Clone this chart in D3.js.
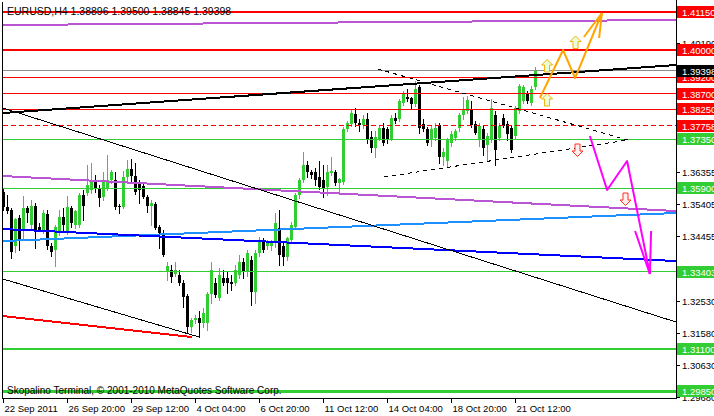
<!DOCTYPE html>
<html><head><meta charset="utf-8">
<script src="https://cdn.jsdelivr.net/npm/d3@7"></script>
<style>
html,body{margin:0;padding:0;background:#fff;overflow:hidden}
svg{display:block}
text{font-family:"Liberation Sans",Arial,sans-serif;font-size:9.5px}
</style>
</head><body>
<svg id="c" width="714" height="416"></svg>
<script>
// ---------- DATA ----------
const symbolTitle = "EURUSD,H4  1.38896 1.39500 1.38845 1.39398";
const copyright = "Skopalino Terminal, \u00A9 2001-2010 MetaQuotes Software Corp.";

const openP = [1.3577,1.3535,1.3524,1.3419,1.3500,1.3464,1.3530,1.3479,1.3538,1.3473,
1.3464,1.3512,1.3419,1.3405,1.3458,1.3503,1.3458,1.3530,1.3479,1.3479,
1.3568,1.3574,1.3583,1.3607,1.3589,1.3562,1.3589,1.3613,1.3613,1.3538,
1.3535,1.3622,1.3646,1.3625,1.3607,1.3595,1.3562,1.3538,1.3544,1.3473,
1.3455,1.3339,1.3345,1.3333,1.3330,1.3307,1.3268,1.3176,1.3197,1.3203,
1.3188,1.3188,1.3274,1.3307,1.3262,1.3322,1.3322,1.3310,1.3307,1.3330,
1.3369,1.3339,1.3375,1.3280,1.3396,1.3434,1.3419,1.3419,1.3425,1.3470,
1.3419,1.3384,1.3434,1.3473,1.3568,1.3613,1.3658,1.3637,1.3637,1.3622,
1.3613,1.3592,1.3634,1.3637,1.3604,1.3607,1.3767,1.3782,1.3811,1.3785,
1.3779,1.3797,1.3743,1.3708,1.3737,1.3770,1.3767,1.3737,1.3800,1.3797,
1.3844,1.3862,1.3859,1.3841,1.3892,1.3782,1.3767,1.3732,1.3740,1.3779,
1.3681,1.3672,1.3723,1.3740,1.3770,1.3806,1.3820,1.3826,1.3782,1.3732,
1.3767,1.3717,1.3732,1.3806,1.3740,1.3800,1.3782,1.3770,1.3746,1.3820,
1.3850,1.3871,1.3844,1.38896];
const highP = [1.3589,1.3568,1.3530,1.3500,1.3509,1.3565,1.3538,1.3553,1.3547,1.3485,
1.3524,1.3524,1.3425,1.3479,1.3524,1.3530,1.3565,1.3538,1.3524,1.3574,
1.3583,1.3658,1.3666,1.3628,1.3598,1.3637,1.3687,1.3643,1.3637,1.3544,
1.3640,1.3675,1.3678,1.3664,1.3613,1.3604,1.3568,1.3553,1.3550,1.3479,
1.3464,1.3369,1.3360,1.3369,1.3345,1.3316,1.3274,1.3203,1.3212,1.3223,
1.3232,1.3280,1.3369,1.3322,1.3351,1.3345,1.3339,1.3330,1.3360,1.3390,
1.3381,1.3405,1.3387,1.3405,1.3443,1.3440,1.3434,1.3434,1.3515,1.3524,
1.3425,1.3443,1.3488,1.3574,1.3619,1.3696,1.3672,1.3643,1.3649,1.3672,
1.3658,1.3658,1.3681,1.3643,1.3619,1.3773,1.3791,1.3826,1.3829,1.3797,
1.3806,1.3814,1.3761,1.3761,1.3776,1.3785,1.3773,1.3806,1.3814,1.3856,
1.3880,1.3886,1.3862,1.3909,1.3898,1.3797,1.3773,1.3776,1.3785,1.3785,
1.3708,1.3740,1.3761,1.3767,1.3814,1.3862,1.3865,1.3850,1.3791,1.3785,
1.3776,1.3755,1.3856,1.3820,1.3785,1.3809,1.3791,1.3779,1.3835,1.3900,
1.3898,1.3880,1.3895,1.39500];
const lowP = [1.3524,1.3515,1.3381,1.3399,1.3405,1.3434,1.3488,1.3470,1.3413,1.3461,
1.3455,1.3410,1.3387,1.3357,1.3449,1.3464,1.3452,1.3473,1.3470,1.3473,
1.3494,1.3568,1.3574,1.3577,1.3538,1.3553,1.3583,1.3604,1.3527,1.3515,
1.3530,1.3604,1.3604,1.3571,1.3547,1.3559,1.3518,1.3479,1.3467,1.3413,
1.3387,1.3316,1.3310,1.3327,1.3301,1.3235,1.3161,1.3161,1.3188,1.3146,
1.3176,1.3167,1.3247,1.3265,1.3256,1.3301,1.3277,1.3286,1.3301,1.3322,
1.3322,1.3327,1.3241,1.3247,1.3387,1.3399,1.3410,1.3407,1.3416,1.3360,
1.3360,1.3375,1.3428,1.3470,1.3559,1.3607,1.3622,1.3619,1.3598,1.3586,
1.3562,1.3568,1.3628,1.3598,1.3577,1.3601,1.3761,1.3776,1.3776,1.3761,
1.3770,1.3723,1.3696,1.3681,1.3732,1.3717,1.3723,1.3732,1.3785,1.3791,
1.3838,1.3850,1.3826,1.3835,1.3755,1.3761,1.3717,1.3714,1.3732,1.3664,
1.3658,1.3652,1.3714,1.3734,1.3761,1.3797,1.3814,1.3773,1.3752,1.3714,
1.3687,1.3672,1.3726,1.3658,1.3732,1.3773,1.3732,1.3696,1.3737,1.3814,
1.3844,1.3844,1.3838,1.38845];
const closeP = [1.3535,1.3521,1.3399,1.3497,1.3434,1.3530,1.3515,1.3538,1.3464,1.3464,
1.3515,1.3419,1.3399,1.3473,1.3503,1.3479,1.3533,1.3485,1.3521,1.3568,
1.3538,1.3598,1.3607,1.3589,1.3559,1.3607,1.3613,1.3637,1.3535,1.3533,
1.3622,1.3646,1.3625,1.3577,1.3583,1.3562,1.3538,1.3547,1.3470,1.3455,
1.3390,1.3357,1.3325,1.3345,1.3307,1.3265,1.3176,1.3197,1.3203,1.3188,
1.3217,1.3274,1.3345,1.3271,1.3330,1.3307,1.3307,1.3304,1.3345,1.3369,
1.3339,1.3396,1.3280,1.3396,1.3434,1.3405,1.3425,1.3425,1.3485,1.3390,
1.3384,1.3440,1.3479,1.3568,1.3613,1.3658,1.3637,1.3628,1.3613,1.3592,
1.3589,1.3637,1.3640,1.3604,1.3616,1.3767,1.3785,1.3814,1.3785,1.3779,
1.3797,1.3732,1.3708,1.3743,1.3770,1.3723,1.3732,1.3800,1.3791,1.3850,
1.3871,1.3856,1.3841,1.3886,1.3770,1.3767,1.3723,1.3767,1.3770,1.3681,
1.3696,1.3737,1.3752,1.3761,1.3806,1.3826,1.3853,1.3779,1.3755,1.3776,
1.3708,1.3746,1.3829,1.3702,1.3776,1.3776,1.3752,1.3702,1.3829,1.3895,
1.3892,1.3850,1.3886,1.39398];

// time axis labels and the bar index they sit on
const timeLabels = ["22 Sep 2011","26 Sep 20:00","29 Sep 12:00","4 Oct 04:00","6 Oct 20:00",
                    "11 Oct 12:00","14 Oct 04:00","18 Oct 20:00","21 Oct 12:00"];
const timeLabelBars = [0,16,32,48,64,80,96,112,128];

// price axis tick labels
const priceTicks = [1.40190,1.36355,1.35405,1.34455,1.32530,1.31580,1.30630,1.29680];

// horizontal support/resistance levels
const levels = [1.41150,1.40000,1.39200,1.38700,1.38250,1.37758,1.37350,1.35900,1.33403,1.31100,1.29850];
const currentPrice = 1.39398;

// trend lines: [barIndex, price] pairs
const lineBlackThick = [[-0.125,1.38134],[168.125,1.39563]];
const lineBlackLong  = [[-0.125,1.38283],[168.125,1.31912]];
const lineBlackLow   = [[-0.125,1.33192],[48.9,1.31466]];
const lineRedLow     = [[-0.125,1.32091],[47.1,1.31466]];
const linePurpleTop  = [[-0.125,1.40754],[168.125,1.40903]];
const linePurpleMid  = [[-0.125,1.36258],[168.125,1.35217]];
const lineBlue       = [[-0.125,1.34681],[168.125,1.33728]];
const lineDodger     = [[-0.125,1.34323],[168.125,1.35157]];
const triUpper       = [[93.6,1.39444],[156.1,1.37330]];
const triLower       = [[95.1,1.36229],[156.1,1.37330]];
const orangePath     = [[134.1,1.38581],[139.9,1.40009],[142.9,1.39176],[149.6,1.41111]];
const orangeHeadL    = [[145.1,1.40397],[149.6,1.41111]];
const orangeHeadR    = [[148.9,1.40367],[149.6,1.41111]];
const magentaPath    = [[146.6,1.37449],[150.9,1.35842],[155.9,1.36705],[161.6,1.33341]];
const magentaHeadL   = [[157.9,1.34621],[161.6,1.33341]];
const magentaHeadR   = [[161.9,1.34621],[161.6,1.33341]];
const upArrows       = [[135.9,1.38521],[135.9,1.39533],[143.0,1.40233]];
const downArrows     = [[143.5,1.37033],[155.5,1.35574]];

// ---------- CHART ----------
const svg = d3.select("#c");
const PL = 3, PR = 676, PT = 2, PB = 398;
const x = d3.scaleLinear().domain([0,168]).range([3.5,675.5]);
const y = d3.scaleLinear().domain([1.29651,1.41498]).range([398,0]);
const crisp = (v,w) => (w % 2 ? Math.round(v - 0.5) + 0.5 : Math.round(v));

svg.append("rect").attr("width",714).attr("height",416).attr("fill","#fff");
svg.append("defs").append("clipPath").attr("id","plot")
  .append("rect").attr("x",PL).attr("y",PT).attr("width",PR-PL).attr("height",PB-PT);

const plot = svg.append("g").attr("clip-path","url(#plot)");

// candles
const bars = d3.range(openP.length).map(i => ({i,o:openP[i],h:highP[i],l:lowP[i],c:closeP[i]}));
const cg = plot.append("g").attr("shape-rendering","crispEdges");
cg.selectAll("line.w").data(bars).join("line")
  .attr("x1",d=>x(d.i)).attr("x2",d=>x(d.i))
  .attr("y1",d=>Math.round(y(d.h))).attr("y2",d=>Math.round(y(d.l))+1)
  .attr("stroke",d=>d.c>=d.o?"#32cd32":"#000").attr("stroke-width",1);
cg.selectAll("rect.b").data(bars).join("rect")
  .attr("x",d=>x(d.i)-1.5).attr("width",3)
  .attr("y",d=>Math.round(y(Math.max(d.o,d.c))))
  .attr("height",d=>Math.max(1,Math.round(y(Math.min(d.o,d.c)))-Math.round(y(Math.max(d.o,d.c)))))
  .attr("fill",d=>d.c>=d.o?"#32cd32":"#000");

// horizontal levels
const levelStyle = [
  {c:"#ff0000",w:2},{c:"#ff0000",w:2},{c:"#ff0000",w:1},{c:"#ff0000",w:1},{c:"#ff0000",w:1},
  {c:"#ff0000",w:1,dash:"5,3"},{c:"#32cd32",w:1},{c:"#32cd32",w:1},{c:"#32cd32",w:1},
  {c:"#32cd32",w:2},{c:"#32cd32",w:3}];
const lg = plot.append("g").attr("shape-rendering","crispEdges");
lg.append("line").attr("x1",PL).attr("x2",PR)
  .attr("y1",crisp(y(currentPrice),1)).attr("y2",crisp(y(currentPrice),1))
  .attr("stroke","#8c8c8c").attr("stroke-width",1);
levels.forEach((p,k)=>{
  const s = levelStyle[k], yy = crisp(y(p),s.w);
  lg.append("line").attr("x1",PL).attr("x2",PR).attr("y1",yy).attr("y2",yy)
    .attr("stroke",s.c).attr("stroke-width",s.w).attr("stroke-dasharray",s.dash||null);
});

// trend lines
const lineGen = d3.line().x(d=>x(d[0])).y(d=>y(d[1]));
function drawLine(pts,color,w,dash,crispy){
  plot.append("path").attr("d",lineGen(pts)).attr("fill","none")
    .attr("stroke",color).attr("stroke-width",w)
    .attr("stroke-dasharray",dash||null)
    .attr("shape-rendering",crispy?"crispEdges":null)
    .attr("stroke-linejoin","round");
}
drawLine(linePurpleTop,"#ba55d3",2,null,true);
drawLine(linePurpleMid,"#ba55d3",2,null,true);
drawLine(lineDodger,"#1e90ff",2,null,true);
drawLine(lineBlue,"#0000ff",2,null,true);
drawLine(lineBlackLong,"#000",1,null,true);
drawLine(lineBlackLow,"#000",1,null,true);
drawLine(lineRedLow,"#ff0000",2,null,true);
drawLine(lineBlackThick,"#000",2,null,true);
drawLine(triUpper,"#000",1,"4,4",true);
drawLine(triLower,"#000",1,"4,4",true);
drawLine(orangePath,"#ffa500",2);
drawLine(orangeHeadL,"#ffa500",2);
drawLine(orangeHeadR,"#ffa500",2);
drawLine(magentaPath,"#ff00ff",2);
drawLine(magentaHeadL,"#ff00ff",2);
drawLine(magentaHeadR,"#ff00ff",2);

// arrow icons
const upShape = "M0,-6.5L5.5,-1L2.5,-1L2.5,6L-2.5,6L-2.5,-1L-5.5,-1Z";
const downShape = "M0,6.5L5.5,1L2.5,1L2.5,-6L-2.5,-6L-2.5,1L-5.5,1Z";
plot.selectAll("path.up").data(upArrows).join("path")
  .attr("d",upShape).attr("transform",d=>`translate(${x(d[0])},${y(d[1])})`)
  .attr("fill","#eaffd8").attr("stroke","#f2b000").attr("stroke-width",1);
plot.selectAll("path.dn").data(downArrows).join("path")
  .attr("d",downShape).attr("transform",d=>`translate(${x(d[0])},${y(d[1])})`)
  .attr("fill","#fff0f0").attr("stroke","#ff3020").attr("stroke-width",1);

// frame
const fg = svg.append("g").attr("shape-rendering","crispEdges");
fg.append("line").attr("x1",2.5).attr("x2",2.5).attr("y1",PT).attr("y2",PB+1).attr("stroke","#000");
fg.append("line").attr("x1",676.5).attr("x2",676.5).attr("y1",0).attr("y2",PB+1).attr("stroke","#000");
fg.append("line").attr("x1",2.5).attr("x2",676.5).attr("y1",398.5).attr("y2",398.5).attr("stroke","#000");

// time axis
timeLabelBars.forEach((b,k)=>{
  const xx = Math.round(x(b)-0.5)+0.5;
  fg.append("line").attr("x1",xx).attr("x2",xx).attr("y1",399).attr("y2",403).attr("stroke","#000");
  svg.append("text").attr("x",xx+1).attr("y",411.5).attr("fill","#000").text(timeLabels[k]);
});

// price axis ticks
priceTicks.forEach(p=>{
  const yy = crisp(y(p),1);
  fg.append("line").attr("x1",677).attr("x2",680).attr("y1",yy).attr("y2",yy).attr("stroke","#000");
  svg.append("text").attr("x",682).attr("y",yy+3.5).attr("fill","#000").text(d3.format(".5f")(p));
});

// price labels for levels
function priceLabel(p,bg){
  const yy = Math.round(y(p));
  svg.append("rect").attr("x",677).attr("y",yy-6).attr("width",37).attr("height",12).attr("fill",bg);
  svg.append("text").attr("x",682).attr("y",yy+3.5).attr("fill","#fff").text(d3.format(".5f")(p));
}
levels.forEach((p,k)=>priceLabel(p, levelStyle[k].c));
priceLabel(currentPrice,"#000");

// texts
svg.append("text").attr("x",7).attr("y",14.5).attr("fill","#000").style("font-size","10.5px").text(symbolTitle);
svg.append("text").attr("x",7).attr("y",394).attr("fill","#000").style("font-size","10px").text(copyright);
</script>
</body></html>
